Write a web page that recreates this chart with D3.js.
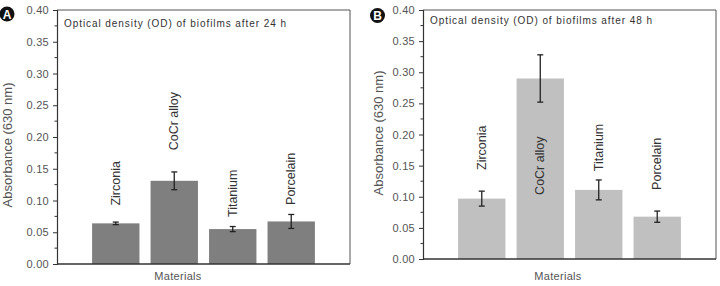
<!DOCTYPE html>
<html><head><meta charset="utf-8">
<script src="https://cdnjs.cloudflare.com/ajax/libs/d3/7.8.5/d3.min.js"></script>
<style>
html,body{margin:0;padding:0;background:#fff;}
svg{display:block;font-family:"Liberation Sans",Arial,sans-serif;}
</style></head>
<body><svg id="chart" width="720" height="286"></svg>
<script>
const materials = ["Zirconia", "CoCr alloy", "Titanium", "Porcelain"];
const od24 = [0.064, 0.131, 0.055, 0.067];
const err24 = [0.002, 0.014, 0.004, 0.011];
const od48 = [0.097, 0.290, 0.111, 0.068];
const err48 = [0.012, 0.038, 0.016, 0.009];
// where the rotated category labels start (in absorbance units)
const labelAt24 = [0.092, 0.179, 0.074, 0.093];
const labelAt48 = [0.143, 0.103, 0.141, 0.111];
const yTicks = [0, 0.05, 0.10, 0.15, 0.20, 0.25, 0.30, 0.35, 0.40];
const titles = ["Optical density (OD) of biofilms after 24 h", "Optical density (OD) of biofilms after 48 h"];
const panelLetters = ["A", "B"];

const svg = d3.select("#chart");

function panel(o){
  const g = svg.append("g");
  const x = d3.scaleBand().domain(materials).range([o.x0, o.x1]).paddingInner(0.19).paddingOuter(0.6);
  const y = d3.scaleLinear().domain([0, 0.40]).range([o.y1, o.y0]);

  g.append("line").attr("x1", o.x0).attr("x2", o.x1).attr("y1", o.y0).attr("y2", o.y0).attr("stroke", "#555").attr("stroke-width", 1);
  g.append("line").attr("x1", o.x1).attr("x2", o.x1).attr("y1", o.y0).attr("y2", o.y1).attr("stroke", "#555").attr("stroke-width", 1);

  g.selectAll("rect.bar").data(materials).join("rect")
    .attr("x", d => x(d)).attr("width", x.bandwidth())
    .attr("y", (d,i) => y(o.vals[i])).attr("height", (d,i) => y(0) - y(o.vals[i]))
    .attr("fill", o.fill);

  const eg = g.selectAll("g.err").data(materials).join("g");
  eg.append("line")
    .attr("x1", d => x(d) + x.bandwidth()/2).attr("x2", d => x(d) + x.bandwidth()/2)
    .attr("y1", (d,i) => y(o.vals[i] + o.errs[i])).attr("y2", (d,i) => y(o.vals[i] - o.errs[i]))
    .attr("stroke", "#222").attr("stroke-width", 1.3);
  [1, -1].forEach(s => {
    eg.append("line")
      .attr("x1", d => x(d) + x.bandwidth()/2 - 3).attr("x2", d => x(d) + x.bandwidth()/2 + 3)
      .attr("y1", (d,i) => y(o.vals[i] + s*o.errs[i])).attr("y2", (d,i) => y(o.vals[i] + s*o.errs[i]))
      .attr("stroke", "#222").attr("stroke-width", 1.3);
  });

  const ax = g.append("g").attr("transform", `translate(${o.x0},0)`)
    .call(d3.axisLeft(y).tickValues(yTicks).tickFormat(d3.format(".2f")).tickSize(4).tickPadding(4));
  ax.select(".domain").attr("stroke", "#333").attr("stroke-width", 1.2);
  ax.selectAll(".tick line").attr("stroke", "#333");
  ax.selectAll(".tick text").attr("font-size", 11).attr("fill", "#555").attr("font-family", "Liberation Sans, Arial, sans-serif").attr("letter-spacing", "0.3px");
  const minors = yTicks.slice(0, -1).map(t => t + 0.025);
  g.selectAll("line.minor").data(minors).join("line")
    .attr("x1", o.x0 - 2.5).attr("x2", o.x0).attr("y1", d => y(d)).attr("y2", d => y(d)).attr("stroke", "#333");

  g.append("line").attr("x1", o.x0).attr("x2", o.x1).attr("y1", o.y1).attr("y2", o.y1).attr("stroke", "#333").attr("stroke-width", 1.5);

  g.selectAll("text.cat").data(materials).join("text")
    .attr("transform", (d,i) => `translate(${x(d) + x.bandwidth()/2 + 4},${y(o.labelAt[i])}) rotate(-90)`)
    .attr("font-size", 12.5).attr("fill", "#333").text(d => d);

  g.append("text").attr("x", o.x0 + 7).attr("y", o.titleY).attr("font-size", 10).attr("fill", "#333")
    .attr("textLength", 222).attr("lengthAdjust", "spacing").text(o.title);

  g.append("text").attr("transform", `translate(${o.ylabX},${o.ylabY}) rotate(-90)`)
    .attr("text-anchor", "middle").attr("font-size", 13).attr("fill", "#555").text("Absorbance (630 nm)");

  g.append("text").attr("x", o.xlabX).attr("y", 280).attr("text-anchor", "middle")
    .attr("font-size", 11).attr("fill", "#555").attr("letter-spacing", "0.3px").text("Materials");

  g.append("circle").attr("cx", o.cx).attr("cy", o.cy).attr("r", 7.5).attr("fill", "#111");
  g.append("text").attr("x", o.cx).attr("y", o.cy + 4.5).attr("text-anchor", "middle")
    .attr("font-size", 12).attr("font-weight", "bold").attr("fill", "#fff").text(o.letter);
}

panel({x0: 57, x1: 350, y0: 10, y1: 264, vals: od24, errs: err24, labelAt: labelAt24, fill: "#7f7f7f",
  title: titles[0], titleY: 27, ylabX: 12, ylabY: 145, xlabX: 178, cx: 7, cy: 14, letter: panelLetters[0]});
panel({x0: 423, x1: 716, y0: 10, y1: 259, vals: od48, errs: err48, labelAt: labelAt48, fill: "#c0c0c0",
  title: titles[1], titleY: 24, ylabX: 383, ylabY: 133, xlabX: 558, cx: 377.5, cy: 15.5, letter: panelLetters[1]});
</script>
</body></html>
